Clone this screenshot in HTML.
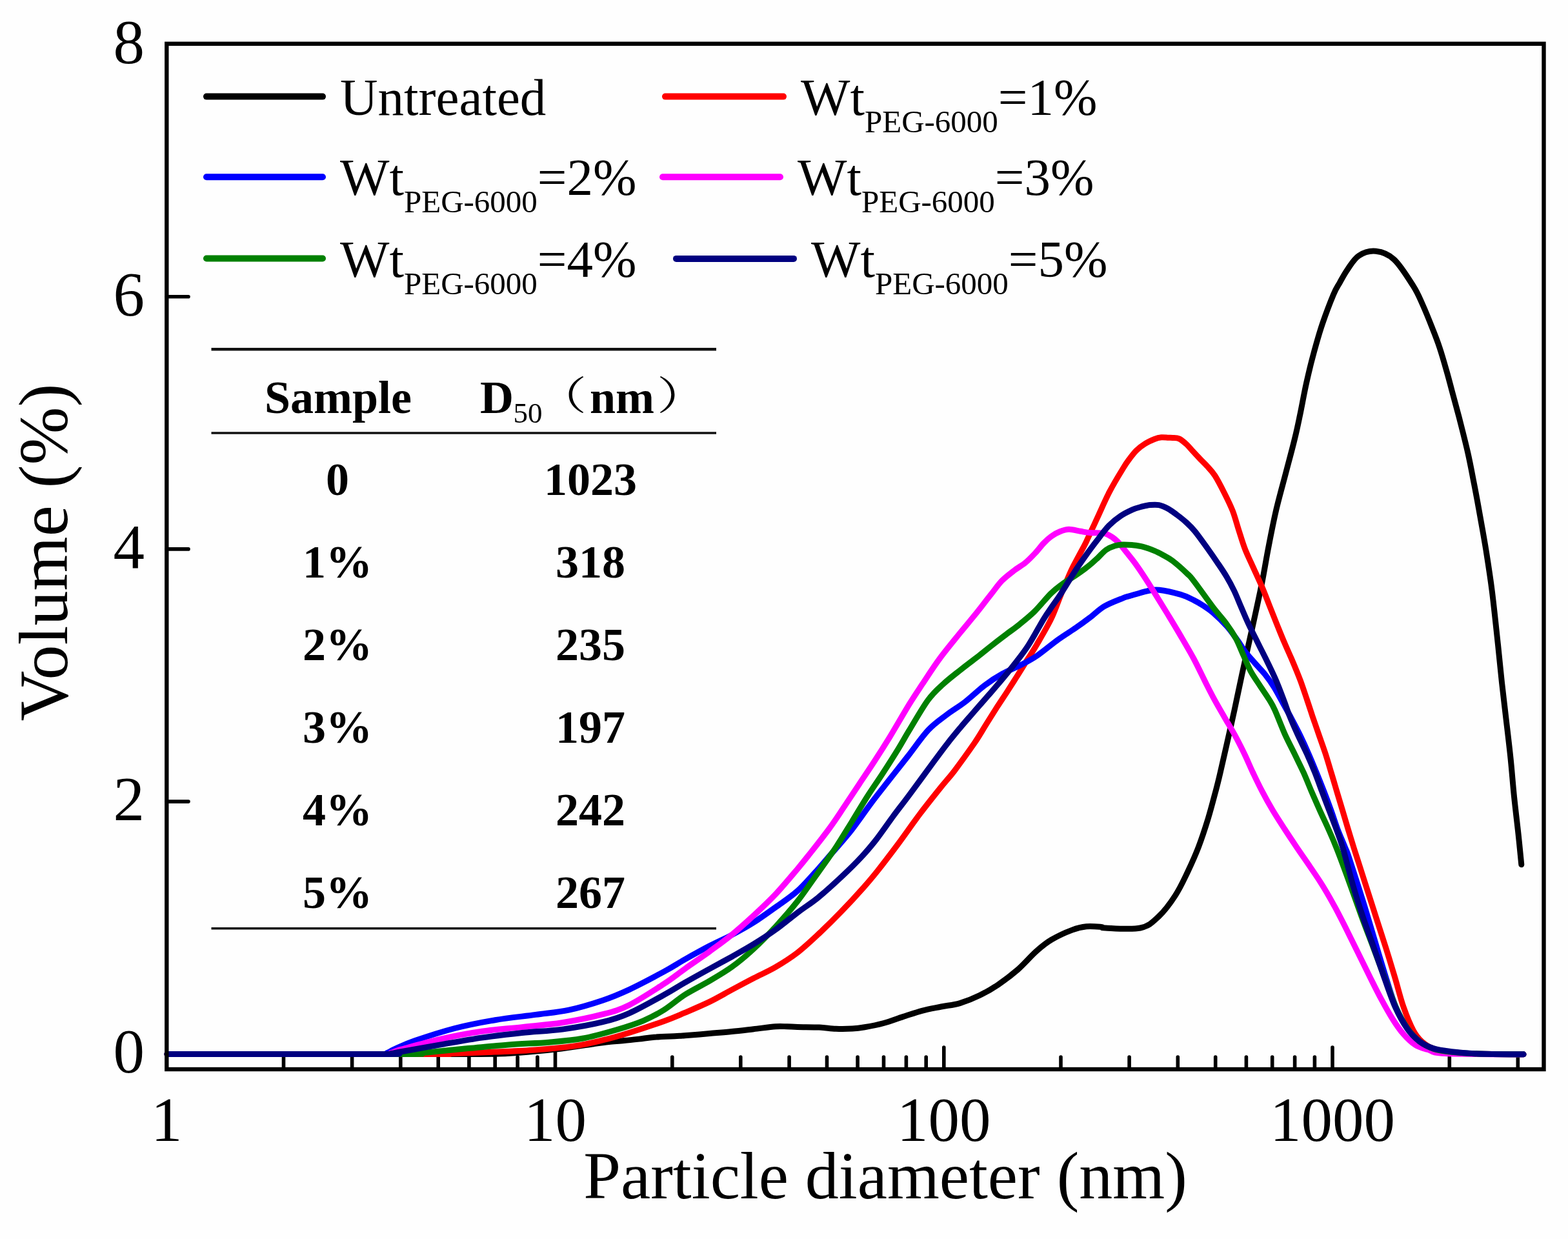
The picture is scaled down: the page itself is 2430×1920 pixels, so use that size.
<!DOCTYPE html>
<html><head><meta charset="utf-8"><title>Particle size distribution</title>
<style>html,body{margin:0;padding:0;background:#fefefe;}svg{display:block;}</style></head>
<body>
<svg xmlns="http://www.w3.org/2000/svg" width="2430" height="1920" viewBox="0 0 2430 1920"><rect x="0" y="0" width="2430" height="1920" fill="#fefefe"/>
<path d="M439.5,1657.0V1638 M545.6,1657.0V1638 M620.8,1657.0V1638 M679.2,1657.0V1638 M726.9,1657.0V1638 M767.2,1657.0V1638 M802.1,1657.0V1638 M832.9,1657.0V1638 M860.5,1657.0V1623 M1041.8,1657.0V1638 M1147.8,1657.0V1638 M1223.1,1657.0V1638 M1281.5,1657.0V1638 M1329.1,1657.0V1638 M1369.5,1657.0V1638 M1404.4,1657.0V1638 M1435.2,1657.0V1638 M1462.8,1657.0V1623 M1644.0,1657.0V1638 M1750.1,1657.0V1638 M1825.3,1657.0V1638 M1883.7,1657.0V1638 M1931.4,1657.0V1638 M1971.7,1657.0V1638 M2006.6,1657.0V1638 M2037.4,1657.0V1638 M2065.0,1657.0V1623 M2246.3,1657.0V1638 M2352.3,1657.0V1638 M258.3,1242.1H292 M258.3,850.9H292 M258.3,459.7H292" stroke="#000" stroke-width="5.6" fill="none" stroke-linecap="round"/>
<path d="M259.0,1633.5 C332.5,1633.5 614.3,1633.6 700.0,1633.5 C785.7,1633.4 753.0,1633.6 773.0,1633.0 C793.0,1632.4 803.8,1631.4 820.0,1630.0 C836.2,1628.7 853.3,1627.0 870.0,1625.0 C886.7,1622.9 907.7,1619.5 920.0,1617.7 C932.3,1616.0 935.9,1615.5 943.8,1614.6 C951.6,1613.8 959.3,1613.4 967.1,1612.6 C974.9,1611.9 982.7,1611.0 990.5,1610.1 C998.3,1609.2 1004.2,1608.0 1013.9,1607.2 C1023.7,1606.5 1041.0,1605.9 1048.9,1605.5 C1056.7,1605.1 1052.5,1605.4 1061.0,1604.7 C1069.5,1604.1 1087.8,1602.6 1099.9,1601.6 C1112.1,1600.5 1122.7,1599.7 1134.0,1598.5 C1145.3,1597.4 1156.6,1596.0 1167.9,1594.7 C1179.2,1593.4 1193.3,1591.4 1201.9,1590.7 C1210.6,1590.1 1214.3,1590.7 1219.9,1590.8 C1225.6,1590.9 1227.7,1591.2 1236.0,1591.4 C1244.3,1591.7 1259.9,1591.6 1269.8,1592.1 C1279.7,1592.6 1286.9,1594.0 1295.4,1594.3 C1303.9,1594.7 1313.3,1594.5 1320.8,1594.1 C1328.2,1593.7 1331.9,1593.2 1340.0,1591.8 C1348.1,1590.4 1359.6,1588.2 1369.5,1585.5 C1379.4,1582.8 1389.4,1578.8 1399.3,1575.6 C1409.2,1572.5 1418.9,1568.9 1428.8,1566.3 C1438.7,1563.7 1448.8,1562.0 1458.6,1560.0 C1468.4,1558.1 1477.7,1557.5 1487.6,1554.6 C1497.5,1551.6 1508.2,1547.3 1518.0,1542.5 C1527.9,1537.8 1537.0,1532.5 1546.8,1525.9 C1556.6,1519.3 1566.9,1511.6 1576.8,1503.0 C1586.7,1494.3 1597.3,1481.8 1606.0,1474.1 C1614.8,1466.3 1619.9,1461.9 1629.2,1456.4 C1638.4,1450.9 1652.5,1444.5 1661.6,1441.1 C1670.6,1437.6 1676.1,1436.4 1683.6,1435.7 C1691.2,1434.9 1701.8,1436.0 1706.8,1436.4 C1711.7,1436.8 1703.0,1437.7 1713.1,1438.0 C1723.2,1438.3 1753.5,1441.0 1767.2,1438.0 C1781.0,1435.1 1786.5,1428.7 1795.5,1420.4 C1804.5,1412.0 1813.9,1399.4 1821.3,1387.9 C1828.8,1376.5 1834.3,1364.3 1840.3,1351.8 C1846.2,1339.3 1851.8,1327.1 1857.2,1313.1 C1862.5,1299.1 1867.8,1283.1 1872.4,1268.0 C1877.0,1252.9 1881.8,1233.9 1884.9,1222.6 C1887.9,1211.3 1887.9,1211.0 1890.5,1200.0 C1893.1,1189.0 1896.7,1173.4 1900.4,1156.8 C1904.2,1140.2 1908.9,1119.3 1913.0,1100.6 C1917.0,1081.9 1920.9,1063.1 1924.9,1044.4 C1929.0,1025.6 1934.2,1002.3 1937.3,988.2 C1940.4,974.1 1940.5,974.2 1943.6,959.9 C1946.7,945.6 1952.1,921.3 1955.9,902.3 C1959.6,883.3 1962.5,864.8 1966.2,846.1 C1969.8,827.4 1973.4,808.7 1977.8,790.0 C1982.2,771.2 1987.6,752.5 1992.5,733.7 C1997.4,714.9 2003.4,693.1 2007.1,677.4 C2010.9,661.8 2012.3,654.0 2015.3,640.0 C2018.2,625.9 2021.2,608.6 2024.7,593.1 C2028.1,577.7 2031.7,562.6 2035.9,547.4 C2040.0,532.2 2044.3,516.9 2049.4,501.7 C2054.6,486.5 2062.1,466.9 2066.6,456.2 C2071.1,445.6 2072.6,444.4 2076.3,437.9 C2079.9,431.4 2083.6,424.2 2088.5,417.3 C2093.4,410.3 2098.6,400.8 2105.9,396.2 C2113.2,391.5 2123.2,388.3 2132.3,389.3 C2141.4,390.3 2150.9,393.1 2160.5,402.1 C2170.2,411.0 2182.8,431.5 2190.2,443.2 C2197.6,454.9 2199.9,461.5 2204.9,472.5 C2209.8,483.4 2215.6,497.9 2219.9,508.9 C2224.3,519.9 2227.3,527.4 2230.9,538.4 C2234.6,549.4 2238.7,563.8 2241.8,574.8 C2245.0,585.8 2246.6,592.3 2249.8,604.3 C2253.0,616.2 2257.0,630.7 2261.2,646.7 C2265.3,662.8 2270.7,683.6 2274.6,700.8 C2278.5,717.9 2281.3,733.5 2284.5,749.9 C2287.7,766.2 2290.6,781.9 2293.6,799.1 C2296.7,816.3 2299.9,833.4 2303.0,852.9 C2306.1,872.4 2309.2,891.7 2312.3,916.2 C2315.4,940.7 2319.0,976.3 2321.6,1000.0 C2324.1,1023.7 2325.5,1039.0 2327.6,1058.6 C2329.7,1078.1 2332.2,1097.7 2334.4,1117.2 C2336.7,1136.7 2339.1,1156.3 2341.1,1175.8 C2343.1,1195.4 2344.5,1214.8 2346.5,1234.4 C2348.5,1253.9 2351.2,1275.3 2353.1,1292.9 C2355.0,1310.5 2357.0,1332.0 2357.8,1339.8" stroke="#000000" stroke-width="9" fill="none" stroke-linejoin="round" stroke-linecap="round"/>
<path d="M259.0,1633.5 C325.8,1633.5 589.0,1633.5 660.0,1633.5 C731.0,1633.5 677.5,1633.6 685.0,1633.5 C692.5,1633.4 691.2,1633.2 704.9,1632.6 C718.6,1632.1 746.5,1631.0 767.3,1630.1 C788.1,1629.2 809.0,1628.6 829.8,1627.0 C850.7,1625.4 874.9,1623.1 892.2,1620.6 C909.5,1618.1 919.9,1615.3 933.8,1611.9 C947.7,1608.6 959.7,1605.2 975.6,1600.2 C991.6,1595.3 1015.3,1587.3 1029.6,1582.2 C1043.9,1577.0 1049.6,1574.3 1061.3,1569.4 C1073.0,1564.4 1087.6,1558.3 1099.7,1552.4 C1111.9,1546.5 1122.6,1540.0 1134.0,1533.9 C1145.4,1527.8 1157.0,1521.5 1168.2,1515.7 C1179.5,1509.9 1190.2,1505.5 1201.5,1498.9 C1212.7,1492.3 1224.4,1485.0 1235.9,1476.2 C1247.3,1467.4 1258.8,1456.4 1270.1,1445.9 C1281.4,1435.3 1292.1,1424.7 1303.5,1412.9 C1314.9,1401.1 1329.2,1385.5 1338.6,1374.9 C1348.1,1364.3 1351.4,1360.2 1360.2,1349.2 C1369.0,1338.1 1380.4,1323.1 1391.2,1308.7 C1402.0,1294.2 1413.9,1276.9 1424.8,1262.4 C1435.6,1248.0 1447.3,1233.5 1456.4,1222.1 C1465.4,1210.8 1470.2,1206.2 1479.2,1194.4 C1488.2,1182.5 1502.1,1163.1 1510.3,1151.3 C1518.4,1139.4 1522.0,1132.6 1527.9,1123.2 C1533.7,1113.9 1540.3,1103.4 1545.5,1095.2 C1550.8,1087.0 1554.5,1081.6 1559.4,1074.1 C1564.3,1066.5 1569.7,1058.1 1574.9,1049.9 C1580.1,1041.8 1585.1,1033.6 1590.3,1025.2 C1595.5,1016.8 1599.9,1010.6 1606.3,999.7 C1612.6,988.8 1622.3,972.8 1628.6,959.9 C1634.8,946.9 1638.8,934.6 1644.0,922.0 C1649.2,909.4 1655.3,894.3 1659.9,884.3 C1664.5,874.3 1667.7,869.3 1671.6,861.9 C1675.5,854.5 1678.5,849.5 1683.2,839.9 C1687.9,830.3 1693.7,817.2 1699.7,804.3 C1705.8,791.3 1712.5,775.4 1719.4,762.2 C1726.2,749.0 1735.8,733.5 1741.0,725.0 C1746.1,716.5 1747.1,715.5 1750.5,711.0 C1753.9,706.5 1757.1,701.8 1761.2,697.9 C1765.3,693.9 1770.5,690.2 1775.1,687.3 C1779.8,684.4 1785.0,682.1 1789.1,680.5 C1793.2,678.9 1796.2,678.2 1799.8,677.8 C1803.3,677.4 1807.3,678.1 1810.3,678.3 C1813.2,678.4 1814.6,678.2 1817.5,678.5 C1820.3,678.7 1823.8,678.3 1827.4,679.9 C1830.9,681.6 1835.2,685.3 1838.8,688.5 C1842.3,691.7 1845.2,695.5 1848.7,699.3 C1852.3,703.2 1856.6,707.8 1860.2,711.6 C1863.8,715.4 1866.7,717.7 1870.4,722.0 C1874.2,726.2 1878.3,730.0 1882.8,737.0 C1887.3,744.0 1892.8,754.8 1897.4,764.0 C1902.0,773.1 1906.6,782.4 1910.3,791.7 C1913.9,801.1 1916.2,810.4 1919.3,820.1 C1922.4,829.7 1925.7,840.9 1929.0,849.6 C1932.3,858.3 1934.6,862.6 1939.0,872.4 C1943.4,882.2 1950.7,897.6 1955.4,908.5 C1960.1,919.4 1963.2,928.0 1967.1,937.8 C1971.0,947.6 1974.8,957.4 1978.7,967.1 C1982.7,976.9 1986.5,986.6 1990.7,996.3 C1994.8,1006.1 1999.5,1015.9 2003.6,1025.7 C2007.7,1035.4 2011.7,1045.2 2015.4,1054.9 C2019.0,1064.7 2022.4,1075.2 2025.5,1084.2 C2028.6,1093.3 2030.8,1100.2 2033.8,1109.3 C2036.9,1118.3 2040.5,1128.7 2043.9,1138.5 C2047.3,1148.3 2050.9,1158.1 2054.1,1167.8 C2057.3,1177.6 2060.1,1187.3 2063.0,1197.1 C2066.0,1206.8 2068.8,1216.6 2071.7,1226.4 C2074.6,1236.1 2077.6,1245.8 2080.5,1255.6 C2083.4,1265.4 2086.3,1275.2 2089.2,1284.9 C2092.2,1294.7 2095.6,1305.8 2098.2,1314.2 C2100.8,1322.5 2101.6,1324.7 2104.9,1335.0 C2108.2,1345.4 2113.4,1361.6 2118.0,1376.1 C2122.7,1390.6 2127.8,1406.8 2132.7,1422.2 C2137.6,1437.6 2142.7,1452.9 2147.6,1468.3 C2152.4,1483.7 2157.1,1499.2 2161.7,1514.6 C2166.3,1530.0 2170.3,1546.9 2175.1,1560.6 C2179.9,1574.4 2185.7,1588.3 2190.4,1597.2 C2195.1,1606.0 2198.0,1609.2 2203.3,1613.8 C2208.6,1618.5 2214.3,1622.5 2222.1,1625.3 C2229.9,1628.1 2238.7,1629.3 2250.0,1630.6 C2261.3,1631.9 2271.5,1632.5 2290.0,1633.0 C2308.5,1633.5 2349.2,1633.7 2361.0,1633.8" stroke="#ff0000" stroke-width="9" fill="none" stroke-linejoin="round" stroke-linecap="round"/>
<path d="M259.0,1633.5 C313.3,1633.5 528.2,1633.8 585.0,1633.5 C641.8,1633.2 595.6,1632.8 600.0,1631.5 C604.4,1630.2 604.1,1629.0 611.2,1625.9 C618.3,1622.8 627.0,1618.2 642.6,1612.8 C658.2,1607.4 684.1,1598.9 704.8,1593.5 C725.6,1588.2 746.4,1584.2 767.2,1580.7 C788.1,1577.2 811.0,1575.0 830.1,1572.4 C849.1,1569.8 864.3,1568.8 881.6,1565.1 C898.9,1561.4 918.3,1555.5 934.0,1550.2 C949.6,1544.9 959.6,1540.7 975.5,1533.3 C991.5,1525.8 1015.3,1513.1 1029.5,1505.4 C1043.8,1497.7 1049.4,1493.5 1061.2,1486.9 C1072.9,1480.3 1087.9,1472.0 1100.1,1465.6 C1112.2,1459.3 1122.8,1454.9 1134.0,1448.9 C1145.3,1442.9 1156.2,1437.0 1167.6,1429.8 C1179.0,1422.5 1191.1,1413.6 1202.5,1405.5 C1213.8,1397.3 1224.8,1390.6 1235.8,1380.7 C1246.8,1370.8 1259.9,1355.3 1268.5,1346.0 C1277.0,1336.6 1278.5,1334.6 1286.9,1324.8 C1295.3,1315.0 1308.4,1300.7 1319.0,1287.2 C1329.6,1273.7 1340.6,1257.1 1350.7,1243.7 C1360.7,1230.4 1369.8,1219.2 1379.3,1207.0 C1388.8,1194.9 1397.9,1183.5 1407.8,1170.9 C1417.7,1158.2 1428.7,1141.8 1438.7,1131.2 C1448.6,1120.6 1457.8,1114.8 1467.3,1107.5 C1476.9,1100.3 1486.1,1095.1 1495.9,1087.5 C1505.8,1079.8 1516.7,1069.0 1526.3,1061.8 C1535.9,1054.6 1543.8,1049.6 1553.3,1044.3 C1562.7,1039.0 1574.0,1034.7 1582.9,1030.0 C1591.8,1025.4 1597.3,1022.9 1606.8,1016.4 C1616.4,1009.9 1630.1,998.2 1640.2,990.9 C1650.2,983.7 1659.2,978.5 1667.2,972.9 C1675.3,967.3 1681.3,963.0 1688.6,957.4 C1696.0,951.9 1702.7,944.7 1711.3,939.6 C1720.0,934.5 1733.9,929.4 1740.3,926.8 C1746.7,924.2 1743.5,925.7 1749.9,923.8 C1756.2,922.0 1770.4,917.4 1778.2,915.8 C1786.0,914.2 1788.1,913.2 1796.7,914.2 C1805.3,915.1 1821.0,918.8 1829.9,921.4 C1838.8,924.1 1844.5,927.3 1850.2,930.1 C1855.9,932.9 1859.4,935.1 1864.3,938.2 C1869.2,941.4 1873.4,943.9 1879.5,949.2 C1885.6,954.5 1895.0,963.5 1901.1,970.1 C1907.1,976.8 1910.8,982.4 1915.7,989.2 C1920.7,996.0 1925.7,1004.4 1930.6,1010.9 C1935.6,1017.4 1940.5,1022.6 1945.4,1028.3 C1950.4,1034.0 1955.7,1039.1 1960.6,1045.2 C1965.4,1051.3 1969.8,1057.3 1974.6,1065.0 C1979.3,1072.7 1985.1,1083.8 1989.2,1091.4 C1993.4,1098.9 1995.4,1102.1 1999.7,1110.2 C2004.0,1118.3 2010.4,1130.3 2015.1,1140.0 C2019.8,1149.6 2023.8,1158.5 2027.9,1168.0 C2032.1,1177.5 2036.0,1187.1 2040.1,1197.0 C2044.1,1206.8 2048.2,1217.2 2052.0,1227.0 C2055.8,1236.8 2059.4,1246.4 2062.9,1256.0 C2066.4,1265.7 2069.3,1275.4 2072.9,1285.0 C2076.6,1294.6 2081.7,1306.1 2084.7,1313.7 C2087.8,1321.2 2086.1,1315.5 2091.1,1330.4 C2096.0,1345.4 2106.9,1379.1 2114.5,1403.6 C2122.0,1428.1 2130.7,1458.0 2136.5,1477.5 C2142.4,1496.9 2145.1,1506.4 2149.5,1520.2 C2153.9,1534.0 2157.8,1547.8 2163.1,1560.2 C2168.3,1572.5 2175.0,1585.1 2181.2,1594.1 C2187.4,1603.0 2193.4,1608.7 2200.2,1614.0 C2207.0,1619.2 2213.7,1622.6 2222.0,1625.4 C2230.3,1628.1 2238.6,1629.1 2249.9,1630.4 C2261.3,1631.7 2271.5,1632.4 2290.0,1633.0 C2308.5,1633.6 2349.2,1633.7 2361.0,1633.8" stroke="#0000ff" stroke-width="9" fill="none" stroke-linejoin="round" stroke-linecap="round"/>
<path d="M259.0,1633.5 C314.2,1633.5 532.2,1633.8 590.0,1633.5 C647.8,1633.2 600.7,1632.7 606.0,1631.5 C611.3,1630.3 608.7,1629.8 621.7,1626.2 C634.7,1622.7 663.3,1614.6 684.1,1610.0 C704.9,1605.3 725.7,1601.3 746.6,1598.3 C767.4,1595.2 788.2,1593.9 809.0,1591.6 C829.8,1589.4 850.4,1588.1 871.3,1584.8 C892.2,1581.4 917.1,1576.3 934.4,1571.7 C951.7,1567.2 959.3,1565.3 975.1,1557.4 C991.0,1549.5 1015.1,1533.6 1029.5,1524.3 C1043.9,1514.9 1049.7,1509.6 1061.4,1501.3 C1073.2,1492.9 1087.8,1483.1 1099.9,1474.3 C1111.9,1465.5 1122.5,1458.0 1133.9,1448.7 C1145.2,1439.5 1156.8,1429.0 1168.1,1418.6 C1179.5,1408.1 1190.5,1397.8 1201.8,1385.9 C1213.0,1373.9 1227.2,1356.8 1235.7,1346.8 C1244.1,1336.8 1244.5,1336.3 1252.7,1325.9 C1260.9,1315.5 1275.5,1297.2 1284.8,1284.5 C1294.2,1271.8 1300.8,1261.3 1308.7,1249.6 C1316.5,1237.9 1324.2,1226.1 1332.0,1214.4 C1339.8,1202.7 1347.6,1191.4 1355.4,1179.3 C1363.3,1167.2 1370.1,1156.5 1379.1,1141.9 C1388.0,1127.2 1400.7,1105.1 1409.1,1091.4 C1417.6,1077.7 1421.9,1071.5 1429.8,1059.6 C1437.7,1047.7 1446.9,1033.2 1456.7,1020.0 C1466.5,1006.7 1480.4,990.1 1488.5,980.0 C1496.6,970.0 1499.8,966.5 1505.2,959.8 C1510.7,953.1 1515.9,946.6 1521.1,939.9 C1526.4,933.2 1531.5,926.5 1536.8,919.8 C1542.0,913.2 1546.9,905.9 1552.7,899.9 C1558.5,894.0 1565.7,888.7 1571.8,884.0 C1577.8,879.4 1583.8,876.4 1589.2,871.9 C1594.6,867.4 1599.6,862.1 1604.4,857.0 C1609.1,852.0 1613.6,845.7 1617.7,841.5 C1621.8,837.2 1624.9,834.3 1629.0,831.4 C1633.2,828.4 1637.9,825.6 1642.5,823.8 C1647.1,822.0 1651.4,820.4 1656.7,820.3 C1662.0,820.3 1669.0,822.4 1674.4,823.3 C1679.8,824.2 1684.2,825.2 1689.1,825.6 C1694.0,826.0 1699.3,825.5 1703.9,825.9 C1708.4,826.3 1711.6,826.0 1716.2,828.1 C1720.8,830.2 1726.3,833.8 1731.3,838.5 C1736.3,843.2 1741.8,851.1 1746.2,856.4 C1750.5,861.7 1753.1,864.7 1757.2,870.2 C1761.3,875.7 1766.2,882.8 1770.6,889.4 C1775.0,896.0 1777.4,899.7 1783.7,909.8 C1790.0,919.9 1801.3,938.3 1808.5,950.0 C1815.6,961.7 1819.6,968.2 1826.5,979.9 C1833.3,991.6 1842.4,1006.7 1849.6,1020.0 C1856.7,1033.3 1863.9,1048.9 1869.4,1059.7 C1874.9,1070.6 1877.9,1076.5 1882.6,1085.1 C1887.4,1093.8 1892.7,1102.9 1897.9,1111.9 C1903.0,1120.8 1908.3,1129.3 1913.4,1138.7 C1918.5,1148.0 1923.6,1158.1 1928.3,1167.8 C1933.0,1177.5 1937.0,1187.3 1941.6,1197.0 C1946.3,1206.8 1951.0,1216.7 1956.1,1226.4 C1961.2,1236.2 1966.5,1245.8 1972.3,1255.5 C1978.2,1265.3 1984.9,1275.6 1991.0,1285.0 C1997.1,1294.4 1999.7,1298.3 2008.9,1311.9 C2018.1,1325.6 2036.4,1351.5 2046.2,1366.9 C2056.0,1382.2 2061.1,1391.6 2067.9,1403.9 C2074.7,1416.1 2080.6,1428.3 2086.8,1440.5 C2093.0,1452.8 2099.0,1465.2 2105.1,1477.5 C2111.2,1489.8 2117.5,1502.8 2123.3,1514.5 C2129.2,1526.2 2134.4,1536.8 2140.2,1547.6 C2146.0,1558.3 2152.4,1570.0 2158.3,1579.2 C2164.1,1588.4 2169.4,1596.1 2175.3,1602.8 C2181.3,1609.6 2187.5,1615.6 2193.7,1619.5 C2200.0,1623.5 2205.2,1624.3 2212.9,1626.5 C2220.6,1628.6 2215.3,1631.3 2240.0,1632.5 C2264.7,1633.7 2340.8,1633.6 2361.0,1633.8" stroke="#ff00ff" stroke-width="9" fill="none" stroke-linejoin="round" stroke-linecap="round"/>
<path d="M259.0,1633.5 C319.2,1633.5 555.7,1633.7 620.0,1633.5 C684.3,1633.3 637.8,1633.0 645.0,1632.5 C652.2,1632.0 649.9,1632.0 663.3,1630.7 C676.8,1629.4 704.9,1626.6 725.7,1624.6 C746.5,1622.7 767.4,1620.5 788.2,1618.9 C809.1,1617.3 831.7,1616.8 850.8,1615.2 C869.8,1613.6 885.1,1612.5 902.5,1609.3 C919.8,1606.1 939.0,1600.6 954.8,1596.0 C970.5,1591.4 984.4,1587.0 996.8,1581.8 C1009.2,1576.6 1018.1,1571.8 1029.0,1565.0 C1039.9,1558.2 1050.3,1548.5 1062.1,1541.0 C1073.8,1533.6 1087.5,1527.2 1099.5,1520.1 C1111.5,1513.0 1122.8,1506.6 1134.2,1498.4 C1145.5,1490.2 1156.3,1481.2 1167.6,1470.7 C1179.0,1460.3 1191.0,1447.9 1202.3,1435.7 C1213.6,1423.4 1225.4,1409.9 1235.3,1397.4 C1245.2,1385.0 1253.6,1372.1 1261.7,1360.9 C1269.7,1349.7 1277.8,1338.4 1283.6,1330.1 C1289.4,1321.9 1290.3,1320.9 1296.5,1311.4 C1302.6,1301.9 1312.4,1285.9 1320.4,1273.0 C1328.3,1260.2 1336.2,1246.7 1344.0,1234.5 C1351.8,1222.3 1358.9,1212.4 1367.0,1200.0 C1375.1,1187.5 1385.6,1171.1 1392.5,1159.8 C1399.5,1148.5 1401.2,1144.6 1408.8,1132.2 C1416.4,1119.7 1429.2,1097.1 1438.0,1085.1 C1446.8,1073.1 1452.9,1068.2 1461.6,1060.2 C1470.2,1052.2 1480.8,1044.3 1490.0,1036.9 C1499.2,1029.6 1508.6,1022.7 1517.0,1016.2 C1525.4,1009.6 1533.3,1003.1 1540.5,997.5 C1547.7,991.8 1553.6,987.4 1560.2,982.4 C1566.7,977.5 1572.6,973.6 1579.8,967.7 C1587.0,961.9 1595.2,955.4 1603.3,947.5 C1611.3,939.5 1621.3,927.0 1628.3,920.0 C1635.3,913.1 1638.9,910.6 1645.4,905.8 C1651.8,901.1 1661.1,895.7 1667.1,891.6 C1673.1,887.5 1677.3,884.5 1681.4,881.4 C1685.5,878.3 1688.5,875.9 1692.0,872.9 C1695.4,870.0 1698.2,867.3 1701.9,863.9 C1705.6,860.4 1709.8,855.1 1714.2,852.1 C1718.6,849.1 1723.8,847.0 1728.0,845.7 C1732.3,844.4 1735.6,844.2 1739.9,844.0 C1744.3,843.9 1748.9,844.1 1754.1,844.6 C1759.4,845.2 1765.7,845.8 1771.5,847.3 C1777.4,848.8 1784.0,851.5 1789.3,853.7 C1794.6,855.9 1798.4,858.0 1803.1,860.5 C1807.8,863.1 1811.2,864.4 1817.4,869.2 C1823.6,874.0 1834.9,884.1 1840.4,889.4 C1845.9,894.6 1843.9,892.3 1850.4,900.8 C1857.0,909.3 1871.1,929.4 1879.5,940.5 C1888.0,951.6 1895.1,959.1 1901.1,967.3 C1907.1,975.4 1911.1,981.6 1915.3,989.4 C1919.5,997.1 1922.5,1005.4 1926.3,1013.8 C1930.1,1022.3 1933.9,1032.0 1938.2,1040.1 C1942.6,1048.1 1947.6,1054.9 1952.4,1062.2 C1957.2,1069.6 1963.2,1078.0 1967.0,1084.3 C1970.9,1090.6 1971.5,1091.1 1975.6,1100.1 C1979.7,1109.1 1986.5,1127.1 1991.5,1138.4 C1996.6,1149.6 2001.2,1158.0 2006.0,1167.8 C2010.7,1177.6 2015.8,1187.5 2020.2,1197.2 C2024.6,1207.0 2028.3,1216.6 2032.4,1226.3 C2036.6,1236.0 2041.0,1245.9 2045.3,1255.6 C2049.7,1265.4 2054.4,1275.1 2058.7,1284.8 C2063.1,1294.6 2066.1,1301.0 2071.3,1314.4 C2076.6,1327.7 2083.8,1347.3 2090.2,1364.9 C2096.7,1382.5 2103.7,1402.8 2110.0,1420.0 C2116.3,1437.2 2122.2,1452.2 2128.1,1467.9 C2134.0,1483.7 2139.7,1498.9 2145.5,1514.2 C2151.3,1529.6 2157.0,1546.9 2162.9,1560.2 C2168.9,1573.5 2175.1,1585.0 2181.4,1593.9 C2187.6,1602.9 2193.4,1608.7 2200.2,1614.0 C2207.0,1619.2 2213.7,1622.6 2222.0,1625.4 C2230.3,1628.1 2238.6,1629.1 2249.9,1630.4 C2261.3,1631.7 2271.5,1632.4 2290.0,1633.0 C2308.5,1633.6 2349.2,1633.7 2361.0,1633.8" stroke="#008000" stroke-width="9" fill="none" stroke-linejoin="round" stroke-linecap="round"/>
<path d="M259.0,1633.5 C314.2,1633.5 532.2,1633.7 590.0,1633.5 C647.8,1633.3 600.7,1633.1 606.0,1632.5 C611.3,1631.9 608.5,1632.1 621.6,1629.8 C634.6,1627.5 663.3,1622.2 684.1,1618.6 C704.9,1615.0 725.7,1611.1 746.5,1608.1 C767.3,1605.1 788.3,1602.7 809.1,1600.5 C829.9,1598.3 850.5,1597.9 871.4,1595.1 C892.2,1592.3 916.9,1587.9 934.2,1583.7 C951.5,1579.6 959.3,1577.2 975.2,1570.1 C991.2,1563.0 1015.5,1549.1 1029.8,1541.3 C1044.1,1533.4 1049.3,1529.6 1061.0,1522.9 C1072.7,1516.2 1087.9,1507.8 1100.1,1501.1 C1112.2,1494.4 1122.5,1489.0 1133.9,1482.7 C1145.2,1476.3 1157.0,1469.8 1168.2,1462.9 C1179.4,1456.0 1189.7,1449.5 1201.2,1441.2 C1212.7,1432.9 1226.0,1421.7 1237.2,1413.3 C1248.4,1404.9 1257.0,1399.9 1268.2,1390.7 C1279.4,1381.5 1293.4,1368.7 1304.6,1358.2 C1315.9,1347.6 1326.9,1336.8 1335.7,1327.2 C1344.6,1317.7 1349.8,1311.4 1357.9,1301.1 C1366.0,1290.7 1375.5,1276.7 1384.2,1264.9 C1393.0,1253.1 1400.0,1244.3 1410.5,1230.1 C1421.1,1215.9 1437.9,1192.7 1447.6,1179.7 C1457.2,1166.6 1461.7,1160.5 1468.6,1151.7 C1475.5,1142.9 1482.2,1134.9 1489.1,1126.6 C1496.0,1118.4 1503.2,1110.3 1510.2,1102.1 C1517.3,1094.0 1525.2,1085.0 1531.5,1077.8 C1537.8,1070.6 1541.4,1066.6 1548.0,1058.7 C1554.6,1050.9 1563.5,1040.4 1571.1,1030.5 C1578.8,1020.7 1586.3,1011.4 1593.9,999.6 C1601.6,987.8 1610.9,969.9 1617.1,959.8 C1623.3,949.6 1626.5,945.6 1631.1,938.8 C1635.7,932.1 1639.1,927.9 1644.7,919.2 C1650.3,910.6 1658.7,896.3 1664.8,887.0 C1670.8,877.7 1675.0,871.7 1680.9,863.4 C1686.8,855.2 1693.8,845.7 1700.1,837.6 C1706.3,829.5 1712.2,821.1 1718.4,814.7 C1724.6,808.3 1731.0,803.4 1737.1,799.3 C1743.2,795.2 1749.5,792.3 1754.8,789.9 C1760.1,787.5 1764.6,786.4 1769.1,785.2 C1773.7,784.0 1777.7,783.0 1782.2,782.6 C1786.7,782.2 1791.3,781.7 1796.0,782.7 C1800.7,783.7 1805.8,786.0 1810.5,788.5 C1815.2,791.1 1819.5,794.5 1824.2,798.0 C1828.9,801.5 1833.8,805.3 1838.5,809.6 C1843.2,813.9 1846.6,817.0 1852.2,823.9 C1857.8,830.8 1866.3,842.9 1872.1,850.9 C1877.8,858.9 1881.9,864.8 1886.7,871.9 C1891.6,879.1 1896.8,886.6 1901.1,894.0 C1905.5,901.3 1909.1,908.2 1912.8,915.9 C1916.5,923.7 1919.7,932.1 1923.4,940.6 C1927.1,949.1 1930.6,957.8 1935.0,967.1 C1939.3,976.4 1944.6,986.6 1949.5,996.4 C1954.3,1006.2 1959.4,1015.9 1964.1,1025.7 C1968.8,1035.4 1973.5,1044.9 1977.7,1054.8 C1981.9,1064.6 1986.0,1075.6 1989.4,1084.6 C1992.9,1093.6 1994.6,1099.8 1998.3,1108.9 C2001.9,1117.9 2006.7,1128.9 2011.2,1138.7 C2015.7,1148.5 2020.7,1158.0 2025.1,1167.7 C2029.5,1177.5 2033.8,1187.5 2037.8,1197.2 C2041.7,1207.0 2045.0,1216.5 2048.6,1226.3 C2052.3,1236.0 2056.0,1246.0 2059.8,1255.7 C2063.5,1265.4 2067.3,1274.9 2070.9,1284.7 C2074.5,1294.5 2076.7,1299.2 2081.2,1314.5 C2085.7,1329.7 2092.7,1358.1 2098.0,1376.0 C2103.2,1394.0 2107.4,1406.8 2112.6,1422.2 C2117.8,1437.5 2123.6,1452.9 2129.0,1468.3 C2134.4,1483.7 2139.6,1499.2 2145.1,1514.6 C2150.7,1530.0 2156.4,1547.4 2162.3,1560.6 C2168.3,1573.8 2174.5,1584.9 2180.7,1593.8 C2186.9,1602.6 2192.8,1608.4 2199.5,1613.6 C2206.3,1618.7 2212.7,1621.9 2221.1,1624.6 C2229.5,1627.3 2238.5,1628.3 2249.9,1629.7 C2261.4,1631.1 2271.5,1632.3 2290.0,1633.0 C2308.5,1633.7 2349.2,1633.7 2361.0,1633.8" stroke="#000080" stroke-width="9" fill="none" stroke-linejoin="round" stroke-linecap="round"/>
<rect x="258.3" y="67.8" width="2134.2" height="1589.2" fill="none" stroke="#000" stroke-width="6.4"/>
<g font-family="'Liberation Serif','Times New Roman',serif" font-size="97" fill="#000"><text x="224" y="1662.3" text-anchor="end">0</text><text x="224" y="1271.1" text-anchor="end">2</text><text x="224" y="879.9" text-anchor="end">4</text><text x="224" y="488.7" text-anchor="end">6</text><text x="224" y="97.5" text-anchor="end">8</text></g>
<g font-family="'Liberation Serif','Times New Roman',serif" font-size="97" fill="#000"><text x="258.2" y="1768" text-anchor="middle">1</text><text x="860.5" y="1768" text-anchor="middle">10</text><text x="1462.8" y="1768" text-anchor="middle">100</text><text x="2065.0" y="1768" text-anchor="middle">1000</text></g>
<text x="1372" y="1857" text-anchor="middle" font-family="'Liberation Serif','Times New Roman',serif" font-size="104" fill="#000">Particle diameter (nm)</text>
<text transform="translate(104,856) rotate(-90)" x="0" y="0" text-anchor="middle" font-family="'Liberation Serif','Times New Roman',serif" font-size="108" fill="#000">Volume (%)</text>
<line x1="320" y1="149.6" x2="500" y2="149.6" stroke="#000000" stroke-width="10" stroke-linecap="round"/>
<text x="527" y="177.6" font-family="'Liberation Serif','Times New Roman',serif" font-size="81" fill="#000">Untreated</text>
<line x1="320" y1="274.3" x2="500" y2="274.3" stroke="#0000ff" stroke-width="10" stroke-linecap="round"/>
<text x="527" y="302.3" font-family="'Liberation Serif','Times New Roman',serif" font-size="81" fill="#000">Wt<tspan font-size="49" dy="27">PEG-6000</tspan><tspan dy="-27">=</tspan>2%</text>
<line x1="320" y1="400.5" x2="500" y2="400.5" stroke="#008000" stroke-width="10" stroke-linecap="round"/>
<text x="527" y="428.5" font-family="'Liberation Serif','Times New Roman',serif" font-size="81" fill="#000">Wt<tspan font-size="49" dy="27">PEG-6000</tspan><tspan dy="-27">=</tspan>4%</text>
<line x1="1031" y1="149.6" x2="1214" y2="149.6" stroke="#ff0000" stroke-width="10" stroke-linecap="round"/>
<text x="1241" y="177.6" font-family="'Liberation Serif','Times New Roman',serif" font-size="81" fill="#000">Wt<tspan font-size="49" dy="27">PEG-6000</tspan><tspan dy="-27">=</tspan>1%</text>
<line x1="1027" y1="274.3" x2="1209" y2="274.3" stroke="#ff00ff" stroke-width="10" stroke-linecap="round"/>
<text x="1236" y="302.3" font-family="'Liberation Serif','Times New Roman',serif" font-size="81" fill="#000">Wt<tspan font-size="49" dy="27">PEG-6000</tspan><tspan dy="-27">=</tspan>3%</text>
<line x1="1048" y1="400.9" x2="1230" y2="400.9" stroke="#000080" stroke-width="10" stroke-linecap="round"/>
<text x="1257" y="428.9" font-family="'Liberation Serif','Times New Roman',serif" font-size="81" fill="#000">Wt<tspan font-size="49" dy="27">PEG-6000</tspan><tspan dy="-27">=</tspan>5%</text>
<g stroke="#111" fill="none"><line x1="327.5" y1="541.3" x2="1110" y2="541.3" stroke-width="4.5"/><line x1="327.5" y1="671" x2="1110" y2="671" stroke-width="3.5"/><line x1="327.5" y1="1438.7" x2="1110" y2="1438.7" stroke-width="3.5"/></g>
<g font-family="'Liberation Serif','Noto Serif CJK SC',serif" font-weight="bold" font-size="72" fill="#000"><text x="524" y="639.6" text-anchor="middle">Sample</text><text x="744" y="639.6">D</text><text x="795.5" y="655" font-size="45" font-weight="normal">50</text><text x="914" y="639.6">nm</text><text transform="translate(830,635) scale(1.3,1)" font-family="'Noto Serif CJK SC','Liberation Serif',serif" font-size="61" font-weight="normal">（</text><text transform="translate(1017.8,635) scale(1.3,1)" font-family="'Noto Serif CJK SC','Liberation Serif',serif" font-size="61" font-weight="normal">）</text><text x="523" y="767.3" text-anchor="middle">0</text><text x="915" y="767.3" text-anchor="middle">1023</text><text x="523" y="895.3" text-anchor="middle">1%</text><text x="915" y="895.3" text-anchor="middle">318</text><text x="523" y="1023.3" text-anchor="middle">2%</text><text x="915" y="1023.3" text-anchor="middle">235</text><text x="523" y="1151.3" text-anchor="middle">3%</text><text x="915" y="1151.3" text-anchor="middle">197</text><text x="523" y="1279.3" text-anchor="middle">4%</text><text x="915" y="1279.3" text-anchor="middle">242</text><text x="523" y="1407.3" text-anchor="middle">5%</text><text x="915" y="1407.3" text-anchor="middle">267</text></g></svg>
</body></html>
